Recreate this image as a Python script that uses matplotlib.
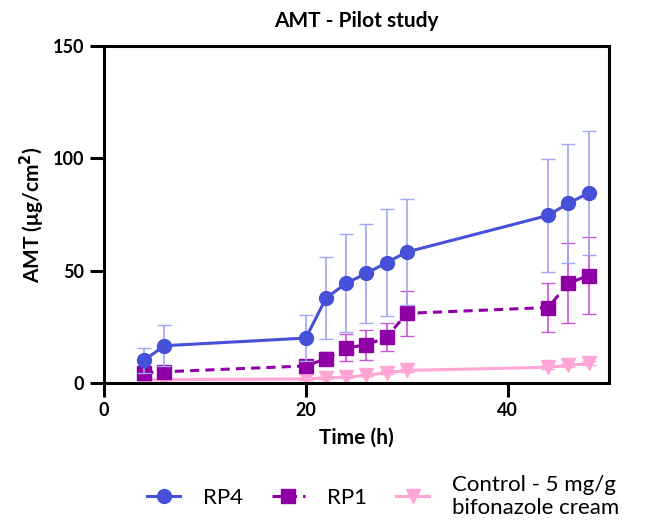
import matplotlib
matplotlib.use("Agg")
import matplotlib.pyplot as plt
from matplotlib.lines import Line2D

plt.rcParams['font.family'] = ['Lato', 'DejaVu Sans']

time_h = [4, 6, 20, 22, 24, 26, 28, 30, 44, 46, 48]
rp4 = [10.2, 16.6, 20.0, 37.8, 44.4, 48.8, 53.6, 58.3, 74.6, 80.0, 84.5]
rp4_err = [5.6, 9.0, 10.3, 18.2, 21.8, 22.0, 23.7, 23.6, 25.2, 26.5, 27.5]
rp1 = [4.6, 5.0, 7.6, 10.8, 15.7, 16.9, 20.4, 31.0, 33.6, 44.4, 47.8]
rp1_err = [1.5, 2.0, 2.5, 3.0, 6.0, 6.5, 6.3, 10.0, 10.8, 17.7, 17.0]
ctrl = [1.4, 1.5, 1.8, 2.3, 2.6, 3.4, 4.6, 5.6, 7.0, 7.8, 8.7]
ctrl_err = [0.3, 0.3, 0.4, 0.4, 0.5, 0.5, 0.6, 0.7, 0.8, 0.8, 0.9]

labels = ["RP4", "RP1", "Control - 5 mg/g\nbifonazole cream"]
title = "AMT - Pilot study"
xlabel = "Time (h)"
ylabel = "AMT (\u03bcg/cm$^\\mathbf{2}$)"

fig = plt.figure(figsize=(6.66, 5.29), dpi=100)
ax = fig.add_axes([0.156, 0.276, 0.758, 0.637])

blue = "#4650D8"
purple = "#8E00A6"
pink = "#FFA6D6"

styles = [
    dict(color=blue, ecolor="#A0A6F2", ls='-', marker='o', ms=10, zorder=4),
    dict(color=purple, ecolor="#CC55DD", ls=(0, (3, 2)), marker='s', ms=10, zorder=3),
    dict(color=pink, ecolor=pink, ls='-', marker='v', ms=10, zorder=2),
]
series = [(rp4, rp4_err), (rp1, rp1_err), (ctrl, ctrl_err)]

handles = []
for (vals, errs), st in zip(series, styles):
    ax.errorbar(time_h, vals, yerr=errs, color=st['color'], ecolor=st['ecolor'], lw=2.2,
                ls=st['ls'], marker=st['marker'], ms=st['ms'], capsize=5,
                elinewidth=1.2, zorder=st['zorder'])
    handles.append(Line2D([], [], color=st['color'], lw=2.2, ls=st['ls'],
                          marker=st['marker'], ms=st['ms']))

ax.set_xlim(0, 50)
ax.set_ylim(0, 150)
ax.set_xticks([0, 20, 40])
ax.set_yticks([0, 50, 100, 150])
for s in ax.spines.values():
    s.set_linewidth(2.2)
ax.tick_params(axis='both', width=2.2, length=10, labelsize=13, direction='out', pad=4)
for t in ax.get_xticklabels() + ax.get_yticklabels():
    t.set_fontweight('bold')

ax.set_title(title, fontsize=15, fontweight='bold', pad=14)
ax.set_xlabel(xlabel, fontsize=15, fontweight='bold', labelpad=6)
ax.set_ylabel(ylabel, fontsize=15, fontweight='bold', labelpad=4)

fig.legend(handles, labels, loc='center',
           bbox_to_anchor=(0.575, 0.062), ncol=3, frameon=False, fontsize=16,
           handlelength=1.5, columnspacing=1.3, handletextpad=1.0)

fig.savefig("out.png", dpi=100)
